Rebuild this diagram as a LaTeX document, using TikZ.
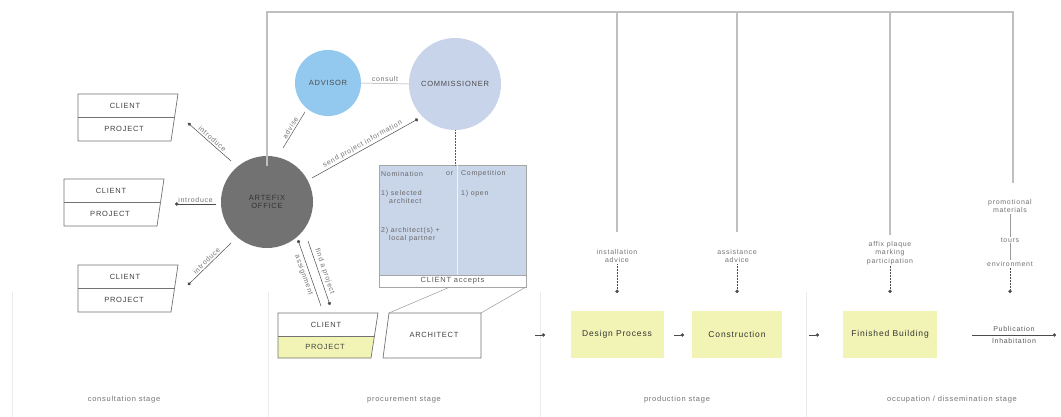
\documentclass[tikz,border=0pt]{standalone}
\usepackage{fontspec}
\setmainfont{Liberation Sans}[LetterSpace=10]
\usetikzlibrary{arrows.meta,calc}
\definecolor{officegray}{HTML}{727272}
\definecolor{advblue}{HTML}{93C9EE}
\definecolor{combl}{HTML}{C8D4EA}
\definecolor{boxbl}{HTML}{C9D6EA}
\definecolor{ylw}{HTML}{F1F4B4}
\begin{document}
\begin{tikzpicture}[x=1pt,y=-1pt,
  frame/.style={draw=black!25, line width=1.2pt},
  edge/.style={draw=black!65, line width=0.5pt},
  dotto/.style={-{Circle[length=3.4pt]}, draw=black!70, line width=0.5pt},
  outl/.style={draw=black!55, line width=0.7pt},
  capt/.style={font=\fontsize{7.5}{8}\selectfont, text=black!75, inner sep=1pt},
  lbl/.style={font=\fontsize{7}{8}\selectfont, text=black!55, inner sep=1.5pt},
  note/.style={font=\fontsize{7}{8.5}\selectfont, text=black!55, align=center, inner sep=1pt},
  stage/.style={font=\fontsize{7.5}{8}\selectfont, text=black!55},
  btxt/.style={font=\fontsize{8.5}{9}\selectfont, text=black!80},
  bluetxt/.style={font=\fontsize{7}{8.5}\selectfont, text=black!60, anchor=west, inner sep=0pt, align=left},
  ybox/.style={fill=ylw, minimum width=93pt, minimum height=47pt, inner sep=0pt, btxt}
]
\useasboundingbox (0,0) rectangle (1061,417);
\fill[white] (0,0) rectangle (1061,417);

% faint stage separators
\foreach \sx in {12,268,540,806}
  \draw[black!8, line width=0.8pt] (\sx,292) -- (\sx,417);

% circles
\node[circle, fill=officegray, minimum size=92pt, inner sep=0pt, font=\fontsize{7.5}{8.5}\selectfont, text=black!80, align=center] (office) at (267,202) {ARTEFIX\\OFFICE};
\node[circle, fill=advblue, minimum size=66pt, inner sep=0pt, capt, text=black!70] (advisor) at (328,83) {ADVISOR};
\node[circle, fill=combl, minimum size=92pt, inner sep=0pt, capt, text=black!70] (comm) at (455,84) {COMMISSIONER};

% left client/project boxes
\foreach \bx/\by/\nm in {78/94/a, 64/179/b, 78/265/c}{
  \draw[outl] (\bx,\by) -- ++(100,0) -- ++(-7,47) -- ++(-93,0) -- cycle;
  \draw[outl] (\bx,\by+23) -- ++(96.5,0);
  \node[capt] (cl\nm) at (\bx+47,\by+11.5) {CLIENT};
  \node[capt] (pr\nm) at (\bx+46,\by+34.5) {PROJECT};
}

% connectors office -> left boxes
\coordinate (o1) at (231,161); \coordinate (b1) at (188,123);
\coordinate (o2) at (216,204); \coordinate (b2) at (175,204);
\coordinate (o3) at (231,243); \coordinate (b3) at (188,285);
\draw[dotto] (o1) -- node[lbl, sloped, above] {introduce} (b1);
\draw[dotto] (o2) -- node[lbl, above] {introduce} (b2);
\draw[dotto] (o3) -- node[lbl, sloped, above] {introduce} (b3);

% advise, send project information, consult
\coordinate (o4) at (283,148); \coordinate (a4) at (305,112);
\draw[edge] (o4) -- node[lbl, sloped, above] {advise} (a4);
\coordinate (o5) at (312,178); \coordinate (c5) at (418,119);
\draw[dotto] (o5) -- node[lbl, sloped, above] {send project information} (c5);
\draw[edge, draw=black!35] (advisor.east) -- node[lbl, above] {consult} (comm.west);

% top frame
\coordinate (tl) at (267,12);
\coordinate (tr) at (1013,12);
\coordinate (t1) at (617,12);
\coordinate (t2) at (737,12);
\coordinate (t3) at (890,12);
\draw[frame] ([yshift=-10pt]office.north) -- (tl) -- (tr) -- (1013,183);
\draw[frame] (t1) -- (617,232);
\draw[frame] (t2) -- (737,232);
\draw[frame] (t3) -- (890,235);

% nomination / competition box
\fill[boxbl] (379,165) rectangle (526,275);
\draw[draw=black!35, line width=0.6pt] (379,165) rectangle (526,287);
\draw[draw=black!35, line width=0.6pt] (379,275) -- (526,275);
\draw[draw=white!70!boxbl, line width=0.8pt] (457,165) -- (457,275);
\node[bluetxt] (nom) at (381,174) {Nomination};
\node[bluetxt] (or) at (446,174) {or};
\node[bluetxt] (compt) at (461,174) {Competition};
\node[bluetxt, anchor=north west] (n1) at (381,190) {1) selected\\\hspace*{8pt}architect};
\node[bluetxt, anchor=north west] (n2) at (381,227) {2) architect(s) +\\\hspace*{8pt}local partner};
\node[bluetxt, anchor=north west] (c1) at (461,190) {1) open};
\node[font=\fontsize{7.5}{8}\selectfont, text=black!65, inner sep=0pt] (acc) at (452.5,281) {CLIENT accepts};
\coordinate (boxtop) at (455,165);
\draw[edge, densely dotted] (comm.south) -- (boxtop);

% bottom client/project box
\fill[ylw] (278,336) -- (374.5,336) -- (371,358) -- (278,358) -- cycle;
\draw[outl] (278,313) -- (378,313) -- (371,358) -- (278,358) -- cycle;
\draw[outl] (278,336) -- (374.5,336);
\node[capt] (cld) at (326,324.5) {CLIENT};
\node[capt] (prd) at (325,347) {PROJECT};

% architect box
\draw[outl] (389,313) -- (481,313) -- (481,358) -- (383,358) -- cycle;
\node[capt] (arch) at (434,335) {ARCHITECT};
\coordinate (atl) at (389,313); \coordinate (atr) at (481,313);
\coordinate (cbl) at (450,287); \coordinate (cbr) at (526,287);
\draw[edge, draw=black!40] (atl) -- (cbl);
\draw[edge, draw=black!40] (atr) -- (cbr);

% office <-> bottom client box
\coordinate (p1a) at (321,306); \coordinate (p1b) at (298,240);
\coordinate (p2a) at (308,241); \coordinate (p2b) at (330,305);
\draw[dotto] (p1a) -- node[lbl, sloped, below=1pt] {assignment} (p1b);
\draw[dotto] (p2a) -- node[lbl, sloped, above=1pt] {find a project} (p2b);

% production stage
\node[ybox] (design) at (617,334) {Design Process};
\node[ybox, minimum width=90pt] (constr) at (737,334) {Construction};
\node[ybox, minimum width=94pt] (fin) at (890,334) {Finished Building};
\coordinate (s1a) at (535,335); \coordinate (s1b) at (545,335);
\coordinate (s2a) at (674,335); \coordinate (s2b) at (684,335);
\coordinate (s3a) at (809,335); \coordinate (s3b) at (819,335);
\draw[dotto] (s1a) -- (s1b);
\draw[dotto] (s2a) -- (s2b);
\draw[dotto] (s3a) -- (s3b);

% advice notes
\node[note] (ia) at (617,256) {installation\\advice};
\node[note] (aa) at (737,256) {assistance\\advice};
\node[note] (ap) at (890,253) {affix plaque\\marking\\participation};
\coordinate (d1) at (617,293); \coordinate (d2) at (737,293);
\coordinate (d3) at (890,293); \coordinate (d4) at (1010,293);
\draw[dotto, densely dotted] (ia.south) -- (d1);
\draw[dotto, densely dotted] (aa.south) -- (d2);
\draw[dotto, densely dotted] (ap.south) -- (d3);

% promotional chain
\node[note] (pm) at (1010,206) {promotional\\materials};
\node[note] (tours) at (1010,240) {tours};
\node[note] (env) at (1010,264) {environment};
\draw[edge, draw=black!40] (pm.south) -- (tours.north);
\draw[edge, draw=black!40] (tours.south) -- (env.north);
\draw[dotto, densely dotted] (env.south) -- (d4);

% publication / inhabitation
\coordinate (pa) at (972,335); \coordinate (pb) at (1056,335);
\draw[dotto] (pa) -- node[note, above=2pt, text=black!65] (publ) {Publication} node[note, below=2pt, text=black!65] (inh) {Inhabitation} (pb);

% stage labels
\node[stage] (st1) at (124,400) {consultation stage};
\node[stage] (st2) at (404,400) {procurement stage};
\node[stage] (st3) at (677,400) {production stage};
\node[stage] (st4) at (952,400) {occupation / dissemination stage};
\end{tikzpicture}
\end{document}
